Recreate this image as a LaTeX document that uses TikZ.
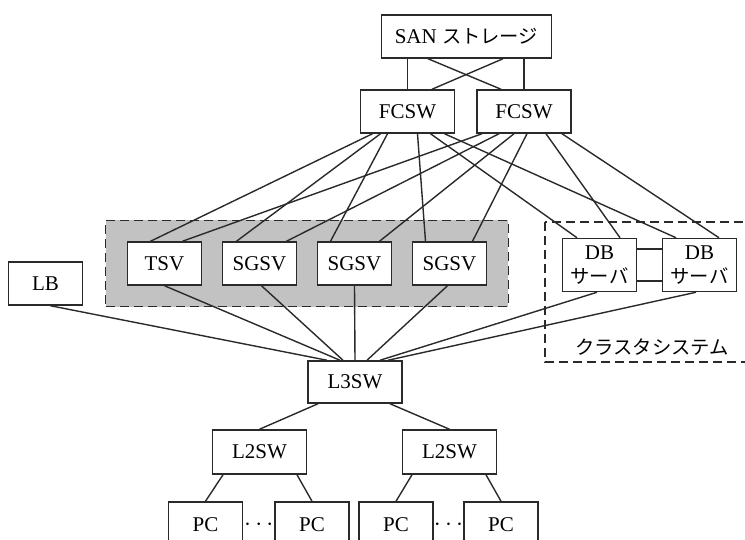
\documentclass[tikz,border=0pt]{standalone}
\usepackage{fontspec}
\setmainfont{Liberation Serif}
\newfontfamily\jp{Noto Sans CJK JP}[Scale=0.92]
\usepackage{tikz}
\usetikzlibrary{backgrounds,positioning,fit,calc}
\definecolor{NetGrey}{HTML}{C2C2C2}
\definecolor{NetInk}{HTML}{2A2A2A}

\begin{document}
\begin{tikzpicture}[
            x=1pt, y=-1pt,
            font=\fontsize{21}{24}\selectfont,
            box/.style={
                    draw=NetInk,
                    line width=1.5pt,
                    fill=white,
                    minimum width=74pt,
                    minimum height=43pt,
                    inner sep=3pt
                },
            swbox/.style={box, minimum width=94pt},
            dbbox/.style={box, minimum height=53pt, align=center},
            pcbox/.style={box, minimum height=46pt},
            link/.style={line width=1.4pt, draw=NetInk},
            srvgroup/.style={draw=NetInk, line width=1.4pt, dash pattern=on 9pt off 5pt,
                    fill=NetGrey, inner sep=21pt},
            clgroup/.style={draw=NetInk, line width=1.4pt, dash pattern=on 9pt off 5pt},
            dots/.style={font=\fontsize{28}{28}\selectfont},
        ]

        \useasboundingbox (0,0) rectangle (745,540);
        \clip (0,0) rectangle (745,540);

        % storage and fc switches
        \node[box, minimum width=170pt] (san) at (466.5,36.5) {SAN {\jp ストレージ}};
        \node[swbox] (fcswa) at (407.5,111.5) {FCSW};
        \node[swbox, right=21pt of fcswa] (fcswb) {FCSW};

        % servers
        \node[box] (lb) at (45.5,283.5) {LB};
        \node[box] (tsv) at (164.5,263.5) {TSV};
        \node[box, right=19.5pt of tsv] (sgsva) {SGSV};
        \node[box, right=19.5pt of sgsva] (sgsvb) {SGSV};
        \node[box, right=19.5pt of sgsvb] (sgsvc) {SGSV};
        \node[dbbox] (dba) at (599.5,265) {DB\\{\jp サーバ}};
        \node[dbbox, right=24.5pt of dba] (dbb) {DB\\{\jp サーバ}};
        \node (cluster) at (652,347) {\jp クラスタシステム};

        % lan switches and clients
        \node[swbox, minimum height=42pt] (lthree) at (355,382) {L3SW};
        \node[swbox, minimum height=44pt] (ltwoa) at (259.5,452) {L2SW};
        \node[swbox, minimum height=44pt] (ltwob) at (449.5,452) {L2SW};
        \node[pcbox] (pca) at (205.5,525) {PC};
        \node[pcbox, right=31pt of pca] (pcb) {PC};
        \node[pcbox] (pcc) at (396,525) {PC};
        \node[pcbox, right=29.5pt of pcc] (pcd) {PC};
        \node[dots] (dotsa) at ($(pca.east)!0.5!(pcb.west)$) {$\cdots$};
        \node[dots] (dotsb) at ($(pcc.east)!0.5!(pcd.west)$) {$\cdots$};

        \begin{scope}[on background layer]
            \node[srvgroup, fit=(tsv)(sgsvc)] (srv) {};
        \end{scope}
        \draw[clgroup] (545,222) rectangle (770,362);

        % san side
        \draw[link] (fcswa.north |- san.south) -- (fcswa.north);
        \draw[link] (fcswb.north |- san.south) -- (fcswb.north);
        \draw[link] ([xshift=-38.5pt]san.south) -- ([xshift=-23pt]fcswb.north);
        \draw[link] ([xshift=36.5pt]san.south) -- ([xshift=24.5pt]fcswa.north);

        \draw[link] ([xshift=-35pt]fcswa.south) -- ([xshift=-14pt]tsv.north);
        \draw[link] ([xshift=-27pt]fcswa.south) -- ([xshift=-23pt]sgsva.north);
        \draw[link] ([xshift=-20pt]fcswa.south) -- ([xshift=-24pt]sgsvb.north);
        \draw[link] ([xshift=10pt]fcswa.south) -- ([xshift=-24pt]sgsvc.north);
        \draw[link] ([xshift=23pt]fcswa.south) -- ([xshift=-22.5pt]dba.north);
        \draw[link] ([xshift=37pt]fcswa.south) -- ([xshift=-23.5pt]dbb.north);

        \draw[link] ([xshift=-42pt]fcswb.south) -- ([xshift=18pt]tsv.north);
        \draw[link] ([xshift=-25pt]fcswb.south) -- ([xshift=27pt]sgsva.north);
        \draw[link] ([xshift=-10pt]fcswb.south) -- ([xshift=25pt]sgsvb.north);
        \draw[link] ([xshift=3pt]fcswb.south) -- ([xshift=23pt]sgsvc.north);
        \draw[link] ([xshift=22pt]fcswb.south) -- ([xshift=20.5pt]dba.north);
        \draw[link] ([xshift=38pt]fcswb.south) -- ([xshift=19.5pt]dbb.north);

        \draw[link] ([yshift=16pt]dba.east) -- ([yshift=16pt]dbb.west);
        \draw[link] ([yshift=-16pt]dba.east) -- ([yshift=-16pt]dbb.west);

        % lan side
        \draw[link] ([xshift=5pt]lb.south) -- ([xshift=-28pt]lthree.north);
        \draw[link] (tsv.south) -- ([xshift=-15pt]lthree.north);
        \draw[link] ([xshift=2pt]sgsva.south) -- ([xshift=-12pt]lthree.north);
        \draw[link] (sgsvb.south) -- (lthree.north);
        \draw[link] ([xshift=-2pt]sgsvc.south) -- ([xshift=12pt]lthree.north);
        \draw[link] ([xshift=-2.5pt]dba.south) -- ([xshift=25pt]lthree.north);
        \draw[link] ([xshift=-3.5pt]dbb.south) -- ([xshift=33pt]lthree.north);

        \draw[link] ([xshift=-37pt]lthree.south) -- (ltwoa.north);
        \draw[link] ([xshift=35pt]lthree.south) -- (ltwob.north);
        \draw[link] ([xshift=-36.5pt]ltwoa.south) -- (pca.north);
        \draw[link] ([xshift=37.5pt]ltwoa.south) -- (pcb.north);
        \draw[link] ([xshift=-37.5pt]ltwob.south) -- (pcc.north);
        \draw[link] ([xshift=36.5pt]ltwob.south) -- (pcd.north);

    \end{tikzpicture}
\end{document}
